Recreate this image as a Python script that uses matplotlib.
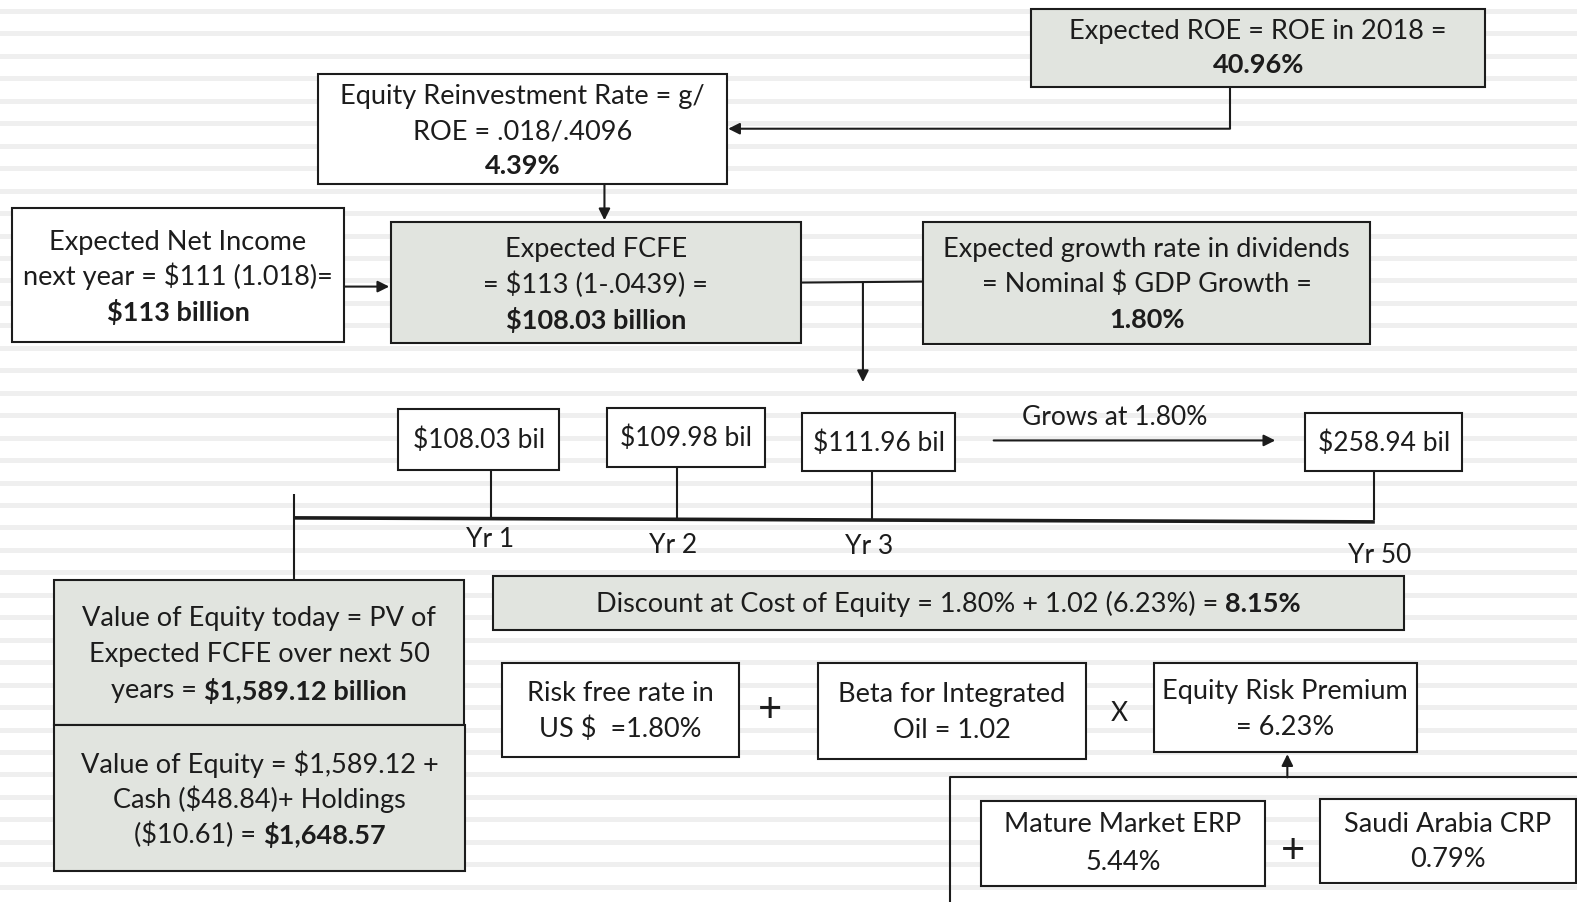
import numpy as np
import matplotlib.pyplot as plt
from matplotlib.patches import Rectangle

# FCFE valuation diagram (Saudi Aramco style), drawn in pixel coordinates

W, H = 1577, 902          # output size
VW, VH = 1568, 897        # coordinate space the layout was measured in
GRAY = "#e1e4df"
INK = "#1c1c1c"
FONT = "Lato"
FS = 19.5

# ----------------------
# Text / values
# ----------------------
roe_text = ["Expected ROE = ROE in 2018 =", "**40.96%**"]
reinvest_text = ["Equity Reinvestment Rate = g/", "ROE = .018/.4096", "**4.39%**"]
income_text = ["Expected Net Income", "next year = $111 (1.018)=", "**$113 billion**"]
fcfe_text = ["Expected FCFE", "= $113 (1-.0439) =", "**$108.03 billion**"]
growth_text = ["Expected growth rate in dividends", "= Nominal $ GDP Growth =", "**1.80%**"]
pv_text = ["Value of Equity today = PV of", "Expected FCFE over next 50", "years = **$1,589.12 billion**"]
equity_text = ["Value of Equity = $1,589.12 +", "Cash ($48.84)+ Holdings", "($10.61) = **$1,648.57**"]
discount_text = ["Discount at Cost of Equity = 1.80% + 1.02 (6.23%) = **8.15%**"]
riskfree_text = ["Risk free rate in", "US $  =1.80%"]
beta_text = ["Beta for Integrated", "Oil = 1.02"]
erp_text = ["Equity Risk Premium", "= 6.23%"]
mature_text = ["Mature Market ERP", "5.44%"]
crp_text = ["Saudi Arabia CRP", "0.79%"]

cash_flows = ["$108.03 bil", "$109.98 bil", "$111.96 bil", "$258.94 bil"]
years = ["Yr 1", "Yr 2", "Yr 3", "Yr 50"]
growth_label = "Grows at 1.80%"

fig = plt.figure(figsize=(W / 100, H / 100), dpi=100)
ax = fig.add_axes([0, 0, 1, 1])
ax.set_xlim(0, VW)
ax.set_ylim(VH, 0)
ax.axis("off")
renderer = fig.canvas.get_renderer()
px = W / VW  # display pixels per layout unit

# striped background
for y in np.arange(10.9, VH, 22.33):
    ax.axhline(y, color="#efefef", lw=3.6, zorder=0)


def text_width(s, size, bold):
    t = ax.text(0, 0, s, fontsize=size, family=FONT,
                fontweight="bold" if bold else "normal")
    w = t.get_window_extent(renderer).width / px
    t.remove()
    return w


def rich_line(x, y, s, size=FS, color=INK):
    # "**...**" marks bold runs
    parts = s.split("**")
    segs = []
    for i, p in enumerate(parts):
        if not p:
            continue
        bold = i % 2 == 1
        core = p.strip()
        lead = len(p) - len(p.lstrip())
        trail = len(p) - len(p.rstrip())
        sp = text_width("x x", size, bold) - text_width("xx", size, bold)
        segs.append((core, bold, lead * sp, text_width(core, size, bold), trail * sp))
    total = sum(a + b + c for _, _, a, b, c in segs)
    cx = x - total / 2
    for core, bold, a, b, c in segs:
        ax.text(cx + a, y, core, fontsize=size, family=FONT, color=color,
                fontweight="bold" if bold else "normal", ha="left", va="center", zorder=4)
        cx += a + b + c


def box(x0, y0, x1, y1, lines=(), ys=(), fill="white", size=FS, lw=1.5):
    ax.add_patch(Rectangle((x0, y0), x1 - x0, y1 - y0, facecolor=fill,
                           edgecolor=INK, lw=lw, zorder=3))
    for s, y in zip(lines, ys):
        rich_line((x0 + x1) / 2, y, s, size)


def line(xs, ys, lw=1.5):
    ax.plot(xs, ys, color=INK, lw=lw, solid_capstyle="butt", zorder=2)


def arrow(start, end):
    ax.annotate("", xy=end, xytext=start,
                arrowprops=dict(arrowstyle="-|>", color=INK, lw=1.5,
                                mutation_scale=17, shrinkA=0, shrinkB=0), zorder=5)


# ----------------------
# Top part
# ----------------------
box(1025, 9, 1477, 87, roe_text, [31, 65], GRAY)
box(316, 74, 723, 183, reinvest_text, [96, 131, 165])
box(12, 207, 342, 340, income_text, [241, 275, 310])
box(389, 221, 796, 341, fcfe_text, [248, 283, 318], GRAY)
box(918, 221, 1362, 342, growth_text, [248, 283, 318], GRAY)

line([1223, 1223], [87, 128])
arrow((1223, 128), (724, 128))
arrow((601, 183), (601, 219))
arrow((342, 285), (387, 285))
line([796, 918], [281, 280])
arrow((858, 281), (858, 380))

# ----------------------
# Timeline
# ----------------------
cf_boxes = [(396, 407, 556, 467), (604, 406, 761, 464),
            (797, 411, 950, 468), (1298, 411, 1454, 468)]
tick_x = [488, 673, 867, 1366]
year_pos = [(487, 537), (669, 542), (864, 543), (1372, 552)]

for (x0, y0, x1, y1), cf, tx, (yx, yy), yr in zip(cf_boxes, cash_flows, tick_x, year_pos, years):
    box(x0, y0, x1, y1, [cf], [(y0 + y1) / 2 + 1], size=19)
    line([tx, tx], [y1, 517])
    ax.text(yx, yy, yr, fontsize=19, family=FONT, color=INK, ha="center", va="center")

line([292, 1367], [515, 519], lw=2.6)
line([292, 292], [491, 577])
ax.text(1108, 415, growth_label, fontsize=19, family=FONT, color=INK, ha="center", va="center")
arrow((988, 438), (1268, 438))

# ----------------------
# Bottom part
# ----------------------
box(54, 577, 461, 721, pv_text, [615, 651, 687], GRAY)
box(54, 721, 462, 866, equity_text, [760, 795, 830], GRAY)
box(490, 573, 1396, 627, discount_text, [601], GRAY)

box(499, 659, 735, 753, riskfree_text, [690, 725])
ax.text(766, 706, "+", fontsize=30, family=FONT, color=INK, ha="center", va="center")
box(813, 659, 1080, 755, beta_text, [691, 726])
ax.text(1113, 710, "X", fontsize=19, family=FONT, color=INK, ha="center", va="center")
box(1147, 659, 1409, 748, erp_text, [688, 723])

line([945, 945, VW], [VH, 773, 773])
arrow((1280, 773), (1280, 750))
box(975, 797, 1258, 881, mature_text, [820, 858])
ax.text(1286, 846, "+", fontsize=30, family=FONT, color=INK, ha="center", va="center")
box(1312, 795, 1567, 878, crp_text, [820, 855])

fig.savefig("out.png", dpi=100)
